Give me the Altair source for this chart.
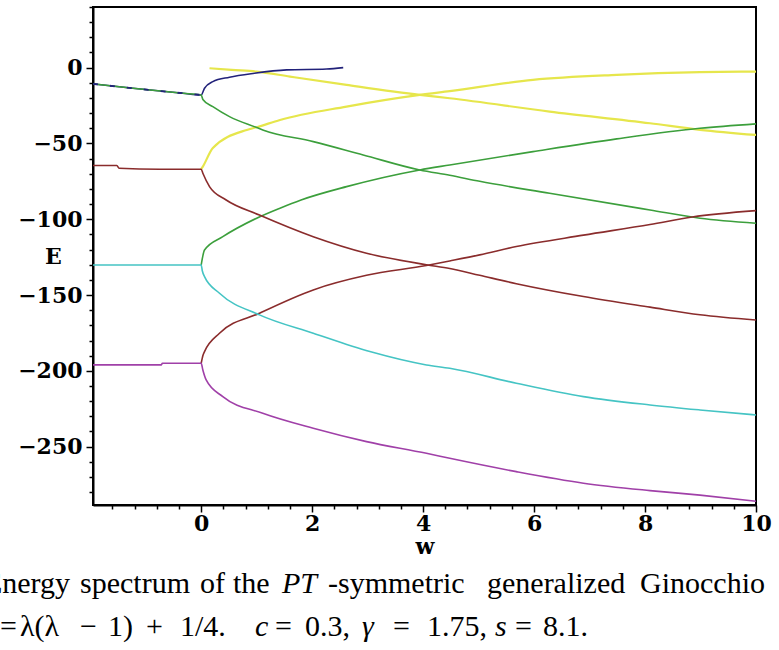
import altair as alt
import pandas as pd

# ---------------- data ----------------
blue_w = [-1.95, -1.23, -0.33, 0.0, 0.06, 0.21, 0.51, 0.96, 1.54, 2.26, 2.56]
blue_E = [-10.7, -13.6, -16.9, -18.0, -13.6, -9.2, -6.3, -3.7, -1.5, -0.9, 0.0]

green1_w = [-1.95, -1.23, -0.33, 0.0, 0.03, 0.21, 0.51, 1.0, 1.11, 2.02, 2.92, 3.94, 4.48, 5.02, 6.28, 8.09, 8.99, 10.0]
green1_E = [-10.7, -13.6, -16.9, -18.0, -21.0, -25.7, -32.3, -39.5, -41.1, -48.8, -57.6, -67.5, -71.0, -75.0, -82.9, -93.9, -99.3, -102.6]

yellow1_w = [0.15, 0.55, 1.0, 1.6, 2.62, 3.94, 4.48, 6.28, 8.09, 8.99, 10.0]
yellow1_E = [-0.4, -1.5, -2.6, -5.9, -11.4, -18.0, -20.2, -29.0, -36.7, -41.0, -44.4]

red1_w = [-1.95, -1.52, -1.48, -0.75, 0.0, 0.03, 0.15, 0.45, 1.05, 2.02, 2.98, 4.06, 4.48, 5.02, 5.68, 6.89, 8.09, 8.99, 10.0]
red1_E = [-64.6, -64.6, -66.4, -67.0, -67.0, -69.7, -78.5, -87.3, -97.2, -111.5, -122.4, -130.0, -132.5, -137.0, -142.5, -151.0, -158.0, -163.0, -166.5]

yellow2_w = [0.0, 0.03, 0.21, 0.82, 1.0, 1.42, 2.62, 3.94, 4.48, 5.98, 7.49, 8.99, 10.0]
yellow2_E = [-67.0, -65.3, -53.0, -41.1, -39.3, -34.5, -25.7, -18.0, -15.5, -8.1, -4.8, -3.0, -2.6]

cyan_w = [-1.95, 0.0, 0.02, 0.06, 0.33, 1.05, 2.02, 3.04, 4.06, 4.48, 5.68, 6.89, 8.09, 8.99, 10.0]
cyan_E = [-130.2, -130.2, -134.0, -137.9, -148.8, -163.1, -175.2, -187.3, -196.1, -198.3, -208.2, -217.0, -222.5, -225.8, -229.1]

green2_w = [0.0, 0.06, 0.39, 1.0, 1.42, 1.8, 2.62, 3.94, 4.48, 5.98, 7.49, 8.99, 10.0]
green2_E = [-130.2, -120.3, -111.5, -99.3, -92.7, -87.3, -78.5, -67.5, -64.2, -55.4, -47.0, -40.0, -37.1]

magenta_w = [-1.95, -0.72, -0.70, 0.0, 0.03, 0.09, 0.39, 1.11, 2.02, 2.98, 4.06, 4.48, 5.68, 6.89, 8.09, 8.99, 10.0]
magenta_E = [-196.1, -196.1, -195.0, -195.0, -199.4, -206.0, -217.0, -228.0, -237.9, -246.7, -254.4, -257.7, -266.5, -274.1, -279.0, -282.0, -286.0]

red2_w = [0.0, 0.03, 0.06, 0.33, 1.05, 2.02, 2.98, 4.06, 4.48, 5.02, 5.68, 6.89, 8.09, 8.85, 10.0]
red2_E = [-195.0, -190.0, -187.3, -175.2, -162.0, -146.6, -137.0, -130.5, -127.5, -123.5, -118.0, -110.5, -103.5, -98.5, -94.3]

x_ticks = [-1.6, -1.2, -0.8, -0.4, 0, 0.4, 0.8, 1.2, 1.6, 2, 2.4, 2.8, 3.2, 3.6, 4, 4.4, 4.8,
           5.2, 5.6, 6, 6.4, 6.8, 7.2, 7.6, 8, 8.4, 8.8, 9.2, 9.6, 10]
y_ticks = [-280, -270, -260, -250, -240, -230, -220, -210, -200, -190, -180, -170, -160, -150,
           -140, -130, -120, -110, -100, -90, -80, -70, -60, -50, -40, -30, -20, -10, 0, 10, 20, 30, 40]

x_title = "w"
y_title = "E"

# caption pieces (text, left x in page px, italic)
cap1_text = ["spectrum", "of", "the", "PT", "-symmetric", "generalized", "Ginocchio"]
cap1_x = [80, 200, 233, 282, 328, 487, 640]
cap1_italic = [False, False, False, True, False, False, False]
cap1_first = "Energy"          # right-aligned, partly cut at the left edge
cap1_first_right = 70

cap2_text = ["=", "λ(λ", "−", "1)", "+", "1/4.", "c", "=", "0.3,", "γ", "=", "1.75,", "s", "=", "8.1."]
cap2_x = [0, 20, 80, 108, 146, 180, 255, 275, 305, 362, 393, 427, 495, 515, 543]
cap2_italic = [False, False, False, False, False, False, True, False, False, True, False, False, True, False, False]

# ---------------- layout ----------------
PL, PT_, PR, PB = 93, 7, 23, 145
W, H = 779 - PL - PR, 650 - PT_ - PB

x_scale = alt.Scale(domain=[-1.95, 10], nice=False, zero=False)
y_scale = alt.Scale(domain=[-288.5, 40], nice=False, zero=False)

x_major = "abs(datum.value - round(datum.value / 2) * 2) < 0.01"
y_major = "abs(datum.value - round(datum.value / 50) * 50) < 0.01"

LABEL_FONT = "DejaVu Serif"

x_axis = alt.Axis(
    values=x_ticks, title=x_title, grid=False,
    labelExpr=f"{x_major} ? format(datum.value, 'd') : ''",
    tickSize={"condition": {"test": x_major, "value": 7}, "value": 4},
    tickColor="black", tickWidth=1.5, domainColor="black", domainWidth=2,
    labelFont=LABEL_FONT, labelFontWeight="bold", labelFontSize=22, labelColor="black",
    labelPadding=1, labelOverlap=False, labelFlush=False,
    titleFont=LABEL_FONT, titleFontWeight="bold", titleFontSize=22, titleColor="black",
    titleX=W / 2, titleY=41, titleAlign="center", titleBaseline="middle",
)
y_axis = alt.Axis(
    values=y_ticks, title=y_title, grid=False,
    labelExpr=f"{y_major} ? format(datum.value, 'd') : ''",
    tickSize={"condition": {"test": y_major, "value": 7}, "value": 4},
    tickColor="black", tickWidth=1.5, domainColor="black", domainWidth=2,
    labelFont=LABEL_FONT, labelFontWeight="bold", labelFontSize=22, labelColor="black",
    labelPadding=4, labelOverlap=False, labelFlush=False,
    titleFont=LABEL_FONT, titleFontWeight="bold", titleFontSize=22, titleColor="black",
    titleAngle=0, titleX=-40, titleY=249, titleAlign="center", titleBaseline="middle",
)


def curve(w, E, color, width=1.6, dash=None, wmax=None):
    df = pd.DataFrame({"w": w, "E": E})
    if wmax is not None:
        df = df[df["w"] <= wmax]
    kw = dict(color=color, strokeWidth=width, interpolate="monotone", clip=True)
    if dash:
        kw["strokeDash"] = dash
    return alt.Chart(df).mark_line(**kw).encode(
        x=alt.X("w:Q", scale=x_scale, axis=x_axis),
        y=alt.Y("E:Q", scale=y_scale, axis=y_axis),
    )


GREEN, YELLOW, RED, CYAN, MAGENTA, BLUE = "#3c9f3c", "#e6e64c", "#8a2c2c", "#45c4c4", "#a040a8", "#22227a"

layers = [
    curve(yellow1_w, yellow1_E, YELLOW, 2.2),
    curve(yellow2_w, yellow2_E, YELLOW, 2.2),
    curve(blue_w, blue_E, BLUE),
    curve(green1_w, green1_E, GREEN),
    curve(green2_w, green2_E, GREEN),
    curve(red1_w, red1_E, RED),
    curve(red2_w, red2_E, RED),
    curve(cyan_w, cyan_E, CYAN),
    curve(magenta_w, magenta_E, MAGENTA),
    curve(blue_w, blue_E, BLUE, 1.8, dash=[5, 12], wmax=0.0),
]

CAP_FONT = "Liberation Serif"
CAP_SIZE = 30
Y1 = 593 - PT_
Y2 = 636 - PT_


def text_piece(t, px, py, italic=False, align="left"):
    kw = dict(font=CAP_FONT, fontSize=CAP_SIZE, color="black", align=align, baseline="alphabetic")
    if italic:
        kw["fontStyle"] = "italic"
    return alt.Chart(pd.DataFrame({"t": [t]})).mark_text(**kw).encode(
        text="t:N", x=alt.value(px - PL), y=alt.value(py)
    )


layers.append(text_piece(cap1_first, cap1_first_right, Y1, align="right"))
for t, px, it in zip(cap1_text, cap1_x, cap1_italic):
    layers.append(text_piece(t, px, Y1, it))
for t, px, it in zip(cap2_text, cap2_x, cap2_italic):
    layers.append(text_piece(t, px, Y2, it))

chart = alt.layer(*layers).properties(
    width=W, height=H,
    autosize=alt.AutoSizeParams(type="none"),
    padding={"left": PL, "top": PT_, "right": PR, "bottom": PB},
    background="white",
).configure_view(stroke="black", strokeWidth=2)

chart.save("out.html", embed_options={"renderer": "svg", "actions": False})
